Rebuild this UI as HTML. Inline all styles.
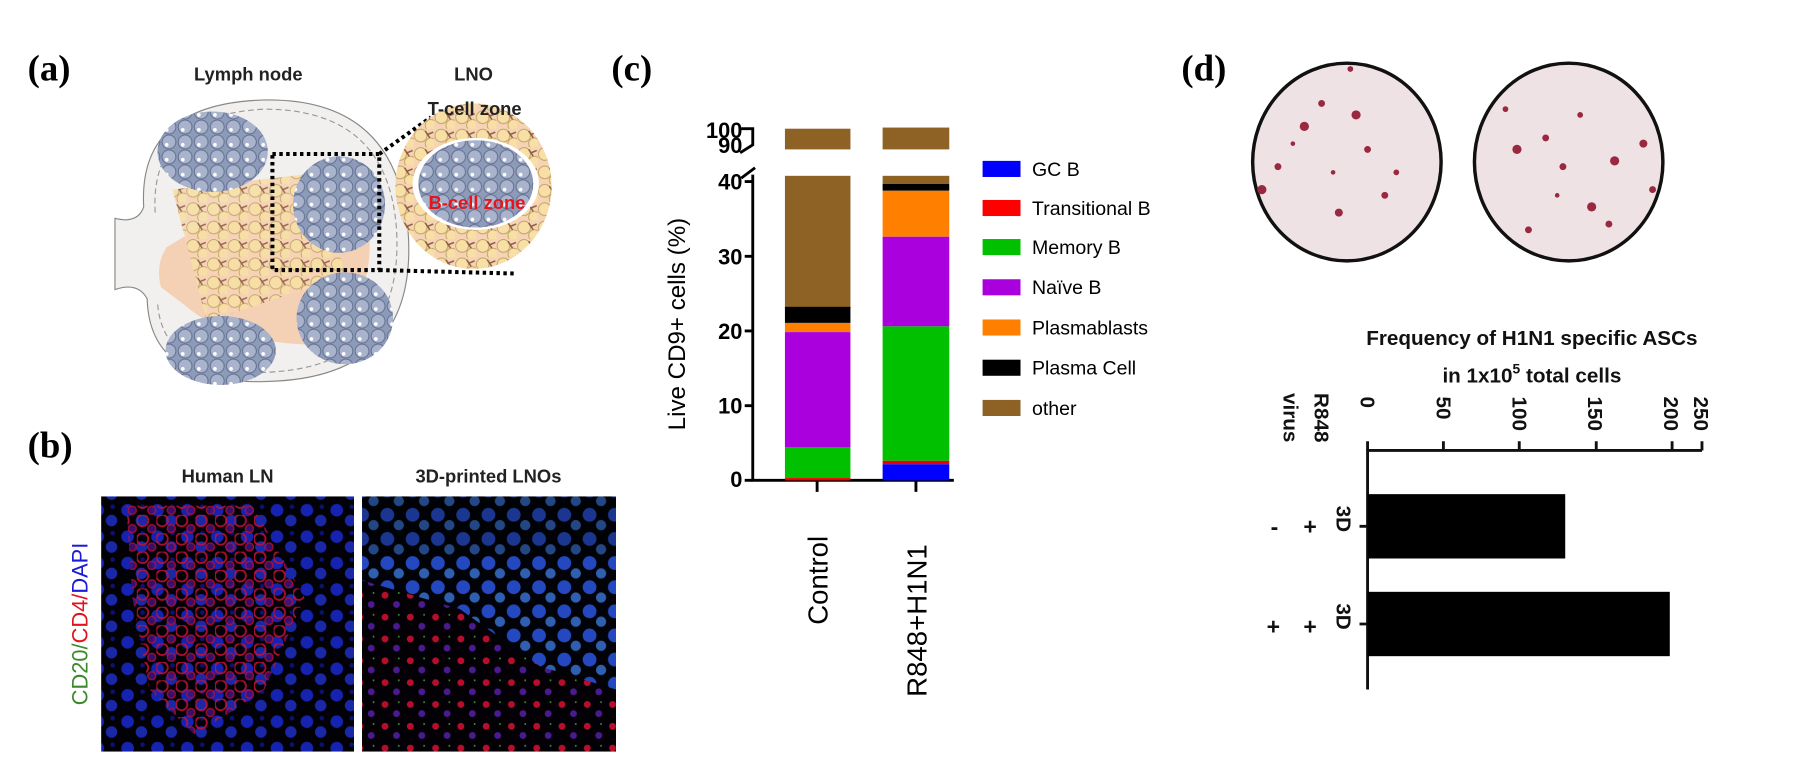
<!DOCTYPE html>
<html><head><meta charset="utf-8"><style>
html,body{margin:0;padding:0;background:#fff;}
svg{display:block;}
text{font-family:"Liberation Sans",sans-serif;}
</style></head><body>
<svg width="1802" height="775" viewBox="0 0 1568 674.4" xmlns="http://www.w3.org/2000/svg">
<defs>
<pattern id="fol" width="14" height="13" patternUnits="userSpaceOnUse">
<rect width="14" height="13" fill="#8d9ab8"/>
<circle cx="7" cy="6.5" r="6" fill="#a9b3cc" stroke="#5d6a8c" stroke-width="0.8"/>
<circle cx="5" cy="9" r="1.6" fill="#fff"/>
</pattern>
<pattern id="tc" width="18" height="16" patternUnits="userSpaceOnUse">
<rect width="18" height="16" fill="#f6d3b5"/>
<circle cx="6" cy="6" r="5.5" fill="#f7dfa6" stroke="#b99a5a" stroke-width="0.7"/>
<circle cx="15" cy="13" r="5" fill="#f7dfa6" stroke="#b99a5a" stroke-width="0.7"/>
<path d="M10 2 L14 8 M12 5 L17 3" stroke="#8a5a3c" stroke-width="1.3"/>
</pattern>
<pattern id="blue" width="26" height="23" patternUnits="userSpaceOnUse">
<rect width="26" height="23" fill="#010106"/>
<circle cx="7" cy="7" r="5.5" fill="#1622b0"/>
<circle cx="19" cy="16" r="5" fill="#1a28a8"/>
<circle cx="20" cy="4" r="2" fill="#0c1270"/>
</pattern>
<pattern id="red" width="17" height="16" patternUnits="userSpaceOnUse">
<circle cx="5" cy="5" r="5" fill="none" stroke="#c81236" stroke-width="1.6"/>
<circle cx="13" cy="12" r="3.5" fill="#40127a" stroke="#b80e38" stroke-width="1.2"/>
</pattern>
<pattern id="cyan" width="22" height="21" patternUnits="userSpaceOnUse">
<rect width="22" height="21" fill="#020308"/>
<circle cx="7" cy="7" r="6" fill="#2448c0"/>
<circle cx="17" cy="16" r="4.5" fill="#2f5fb0"/>
</pattern>
<pattern id="redsp" width="22" height="19" patternUnits="userSpaceOnUse">
<rect width="22" height="19" fill="#030106"/>
<circle cx="5" cy="5" r="3" fill="#b80e2c"/>
<circle cx="15" cy="13" r="3" fill="#4a1a90"/>
<circle cx="17" cy="3" r="0.8" fill="#3c9a30"/>
</pattern>
</defs>

<g font-weight="bold" font-size="32">
<text x="24" y="70" style="font-family:'Liberation Serif',serif">(a)</text>
<text x="24" y="398" style="font-family:'Liberation Serif',serif">(b)</text>
<text x="532" y="70" style="font-family:'Liberation Serif',serif">(c)</text>
<text x="1028" y="70" style="font-family:'Liberation Serif',serif">(d)</text>
</g>

<!-- Panel a -->
<path d="M100 190 Q120 195 125 180 Q120 90 230 87 Q345 85 355 200 Q365 330 230 332 Q130 335 128 260 Q120 245 100 252 Z" fill="#f1f0ee" stroke="#888" stroke-width="1"/>
<path d="M135 185 Q130 100 230 95 Q338 95 345 200 Q352 320 230 324 Q140 326 137 262" fill="none" stroke="#999" stroke-width="1" stroke-dasharray="5,3"/>
<path d="M140 250 Q135 230 145 215 L170 200 Q250 150 320 190 Q330 260 280 300 Q200 300 160 265 Z" fill="#f5c9a5" opacity="0.8"/>
<path d="M150 165 L280 150 L300 240 L180 280 Z" fill="url(#tc)" opacity="0.9"/>
<ellipse cx="185" cy="132" rx="48" ry="35" fill="url(#fol)"/>
<ellipse cx="295" cy="178" rx="40" ry="42" fill="url(#fol)"/>
<ellipse cx="300" cy="277" rx="42" ry="40" fill="url(#fol)"/>
<ellipse cx="192" cy="305" rx="48" ry="30" fill="url(#fol)"/>
<rect x="237" y="134" width="93" height="101" fill="none" stroke="#000" stroke-width="3.5" stroke-dasharray="3,3"/>
<path d="M330 134 L375 102 M330 235 L447 238" stroke="#000" stroke-width="3.5" stroke-dasharray="3,3"/>
<ellipse cx="412" cy="162" rx="68" ry="72" fill="url(#tc)"/>
<ellipse cx="414" cy="160" rx="55" ry="40" fill="#fff"/>
<ellipse cx="414" cy="160" rx="50" ry="38" fill="url(#fol)"/>
<g font-weight="bold" font-size="16" text-anchor="middle" fill="#222">
<text x="216" y="70">Lymph node</text>
<text x="412" y="70">LNO</text>
<text x="413" y="100">T-cell zone</text>
</g>
<text x="415" y="182" font-size="16" font-weight="bold" fill="#e8141c" text-anchor="middle">B-cell zone</text>

<!-- Panel b -->
<g font-weight="bold" font-size="16" text-anchor="middle" fill="#222">
<text x="198" y="420">Human LN</text>
<text x="425" y="420">3D-printed LNOs</text>
</g>
<text transform="translate(76 543) rotate(-90)" text-anchor="middle" font-size="19"><tspan fill="#3a8a2a">CD20/</tspan><tspan fill="#e0141c">CD4/</tspan><tspan fill="#1a1ad8">DAPI</tspan></text>
<rect x="88" y="432" width="220" height="222" fill="url(#blue)"/>
<path d="M110 440 L220 440 L265 520 L230 600 L170 640 L130 600 L115 520 Z" fill="url(#red)" opacity="0.85"/>
<rect x="315" y="432" width="221" height="222" fill="url(#cyan)"/>
<rect x="315" y="432" width="221" height="50" fill="#000" opacity="0.25"/>
<path d="M315 505 L400 530 L470 580 L536 600 L536 654 L315 654 Z" fill="url(#redsp)"/>

<!-- Panel c -->
<text transform="translate(596 282) rotate(-90)" text-anchor="middle" font-size="21">Live CD9+ cells (%)</text>
<g font-weight="bold" font-size="19" text-anchor="end">
<text x="646" y="424">0</text><text x="646" y="360">10</text><text x="646" y="295">20</text>
<text x="646" y="230">30</text><text x="646" y="165">40</text>
<text x="646" y="120">100</text><text x="646" y="133">90</text>
</g>
<g stroke="#000" stroke-width="2.5" fill="none">
<path d="M655 152 L655 418 L830 418"/>
<path d="M648 418 H655 M648 353 H655 M648 288 H655 M648 223 H655 M648 158 H655"/>
<path d="M645 112 H655 V126 L644 133 M645 155 L657 146"/>
<path d="M711 418 V428 M797 418 V428"/>
</g>
<rect x="683" y="112" width="57" height="18" fill="#8e6124"/>
<rect x="683" y="153" width="57" height="116" fill="#8e6124"/>
<rect x="683" y="267" width="57" height="14" fill="#000"/>
<rect x="683" y="281" width="57" height="8" fill="#ff8000"/>
<rect x="683" y="289" width="57" height="100" fill="#aa00dd"/>
<rect x="683" y="389" width="57" height="27" fill="#00c000"/>
<rect x="683" y="416" width="57" height="2" fill="#e00"/>
<rect x="768" y="111" width="58" height="19" fill="#8e6124"/>
<rect x="768" y="153" width="58" height="7" fill="#8e6124"/>
<rect x="768" y="160" width="58" height="6" fill="#000"/>
<rect x="768" y="166" width="58" height="40" fill="#ff8000"/>
<rect x="768" y="206" width="58" height="78" fill="#aa00dd"/>
<rect x="768" y="284" width="58" height="117" fill="#00c000"/>
<rect x="768" y="401" width="58" height="3" fill="#e00"/>
<rect x="768" y="404" width="58" height="14" fill="#0000ff"/>
<text transform="translate(720 505) rotate(-90)" text-anchor="middle" font-size="24">Control</text>
<text transform="translate(806 540) rotate(-90)" text-anchor="middle" font-size="24">R848+H1N1</text>
<g font-size="17">
<rect x="855" y="140" width="33" height="14" fill="#0000ff"/><text x="898" y="153">GC B</text>
<rect x="855" y="174" width="33" height="14" fill="#ff0000"/><text x="898" y="187">Transitional B</text>
<rect x="855" y="208" width="33" height="14" fill="#00c000"/><text x="898" y="221">Memory B</text>
<rect x="855" y="243" width="33" height="14" fill="#aa00dd"/><text x="898" y="256">Naïve B</text>
<rect x="855" y="278" width="33" height="14" fill="#ff8000"/><text x="898" y="291">Plasmablasts</text>
<rect x="855" y="313" width="33" height="14" fill="#000"/><text x="898" y="326">Plasma Cell</text>
<rect x="855" y="348" width="33" height="14" fill="#8e6124"/><text x="898" y="361">other</text>
</g>

<!-- Panel d -->
<ellipse cx="1172" cy="141" rx="82" ry="86" fill="#efe2e4" stroke="#111" stroke-width="3"/>
<ellipse cx="1365" cy="141" rx="82" ry="86" fill="#efe2e4" stroke="#111" stroke-width="3"/>
<g fill="#9a2840">
<circle cx="1135" cy="110" r="4"/><circle cx="1150" cy="90" r="3"/><circle cx="1180" cy="100" r="4"/><circle cx="1190" cy="130" r="3"/>
<circle cx="1112" cy="145" r="3"/><circle cx="1098" cy="165" r="4"/><circle cx="1165" cy="185" r="3.5"/><circle cx="1205" cy="170" r="3"/>
<circle cx="1175" cy="60" r="2.5"/><circle cx="1215" cy="150" r="2.5"/><circle cx="1160" cy="150" r="2"/><circle cx="1125" cy="125" r="2"/>
<circle cx="1320" cy="130" r="4"/><circle cx="1345" cy="120" r="3"/><circle cx="1360" cy="145" r="3"/><circle cx="1405" cy="140" r="4"/>
<circle cx="1430" cy="125" r="3.5"/><circle cx="1385" cy="180" r="4"/><circle cx="1400" cy="195" r="3"/><circle cx="1330" cy="200" r="3"/>
<circle cx="1310" cy="95" r="2.5"/><circle cx="1375" cy="100" r="2.5"/><circle cx="1438" cy="165" r="3"/><circle cx="1355" cy="170" r="2"/>
</g>
<g font-weight="bold" font-size="18" text-anchor="middle" fill="#111">
<text x="1333" y="300">Frequency of H1N1 specific ASCs</text>
<text x="1333" y="333">in 1x10<tspan font-size="12" dy="-8">5</tspan><tspan dy="8"> total cells</tspan></text>
</g>
<g font-weight="bold" font-size="18" fill="#111">
<text transform="translate(1184 345) rotate(90)">0</text>
<text transform="translate(1250 345) rotate(90)">50</text>
<text transform="translate(1316 345) rotate(90)">100</text>
<text transform="translate(1382 345) rotate(90)">150</text>
<text transform="translate(1448 345) rotate(90)">200</text>
<text transform="translate(1474 345) rotate(90)">250</text>
<text transform="translate(1144 342) rotate(90)">R848</text>
<text transform="translate(1117 342) rotate(90)">virus</text>
<text transform="translate(1163 440) rotate(90)">3D</text>
<text transform="translate(1163 525) rotate(90)">3D</text>
</g>
<g font-weight="bold" font-size="20" fill="#111" text-anchor="middle">
<text x="1140" y="465">+</text><text x="1109" y="465">-</text>
<text x="1140" y="552">+</text><text x="1108" y="552">+</text>
</g>
<g stroke="#111" stroke-width="2.5" fill="none">
<path d="M1190 600 V392 H1481"/>
<path d="M1190 392 V384 M1256 392 V384 M1322 392 V384 M1389 392 V384 M1455 392 V384 M1481 392 V384"/>
<path d="M1183 458 H1190 M1183 543 H1190"/>
</g>
<rect x="1190" y="430" width="172" height="56" fill="#000"/>
<rect x="1190" y="515" width="263" height="56" fill="#000"/>
</svg>
</body></html>
